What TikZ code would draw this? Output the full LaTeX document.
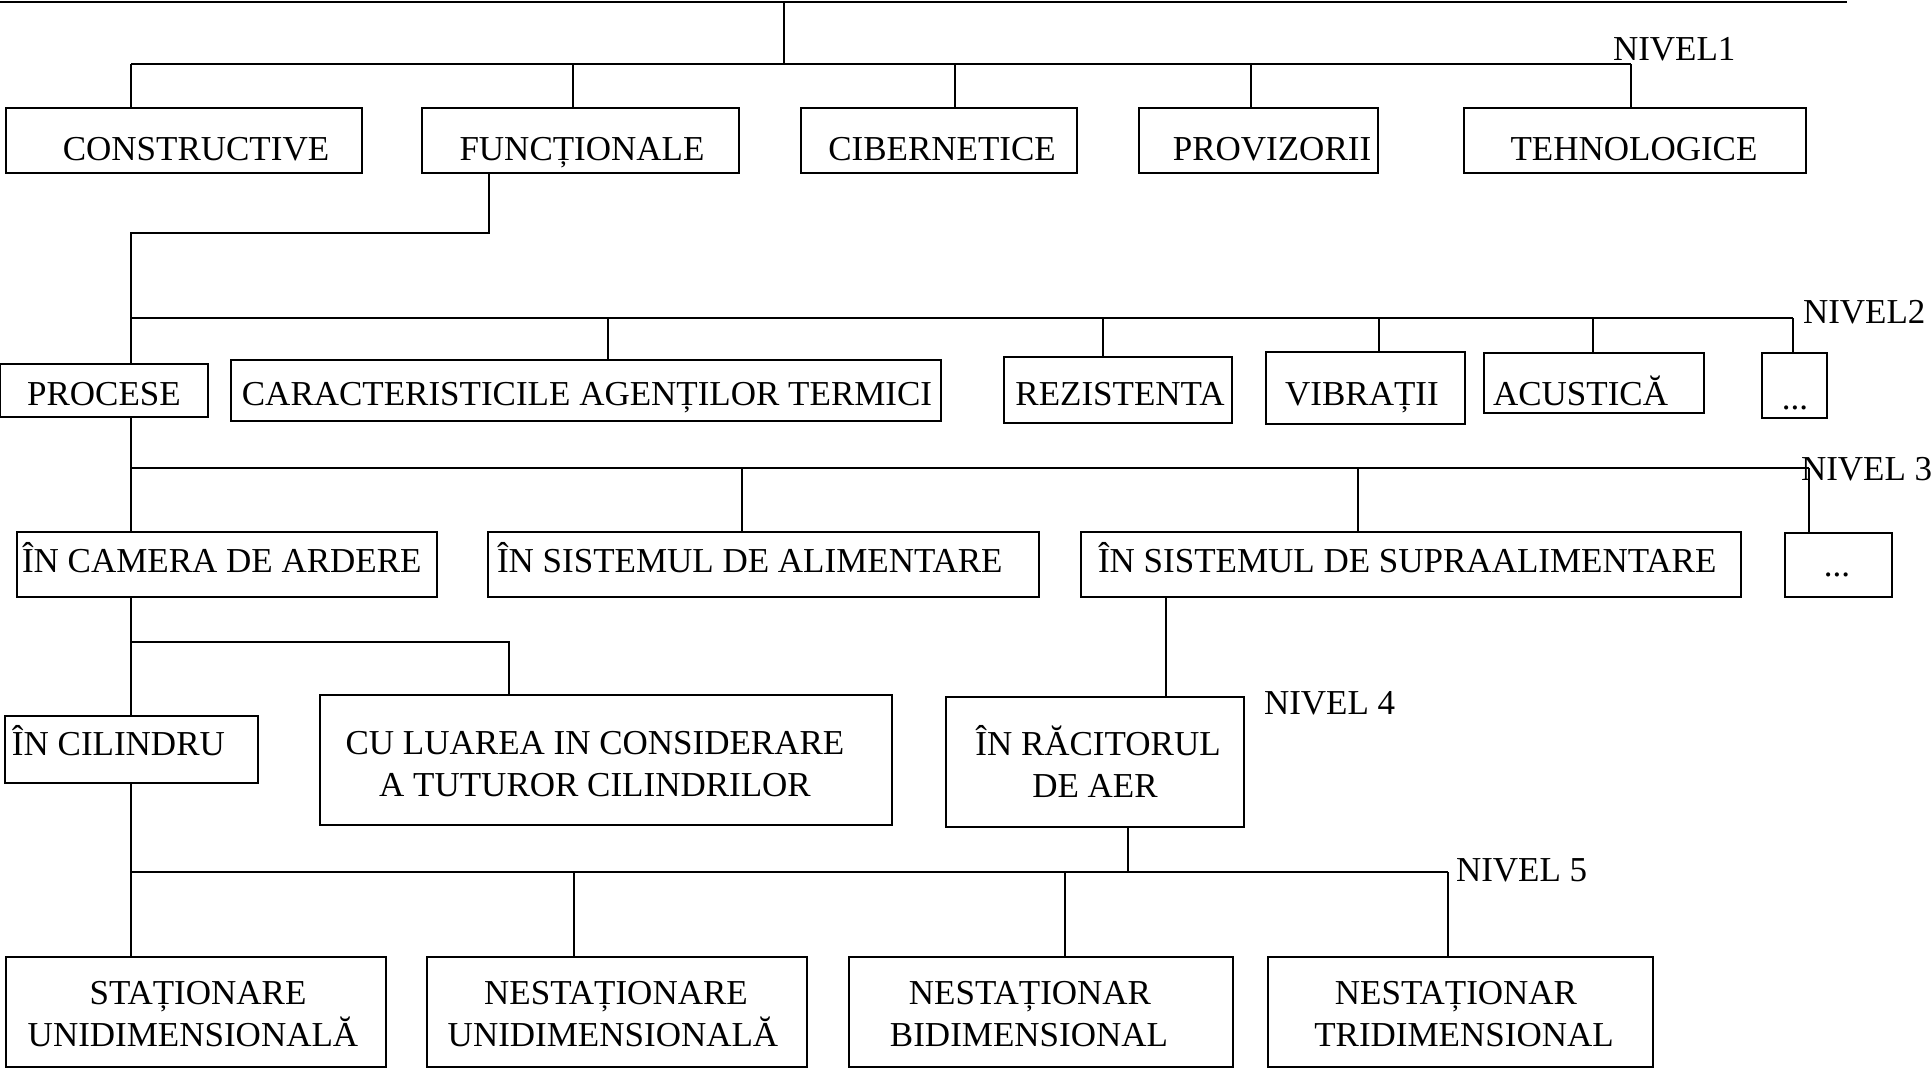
\documentclass[tikz,border=0pt]{standalone}
\usepackage{fontspec}
\setmainfont{Liberation Serif}
\usetikzlibrary{fit}
% box from its two corners
\newcommand\bx[5]{\node[box, fit={(#2,#3) (#4,#5)}] (#1) {};}
% vertical drop from a bus point down to the top of a box
\newcommand\drop[3]{\coordinate (#1) at (#2); \draw (#1) -- (#1 |- #3.north);}
\begin{document}
\begin{tikzpicture}[x=1pt,y=-1pt,
  line width=1.8pt,
  box/.style={draw, rectangle, inner sep=0pt, outer sep=0pt},
  lbl/.style={inner sep=0pt, outer sep=0pt, anchor=base, font=\fontsize{35}{42}\selectfont},
  lblw/.style={lbl, anchor=base west},
]
\useasboundingbox (0,0) rectangle (1932,1068);

% ---------- level 1 ----------
\bx{cons}{6}{108}{362}{173}
\bx{func}{422}{108}{739}{173}
\bx{cib}{801}{108}{1077}{173}
\bx{prov}{1139}{108}{1378}{173}
\bx{teh}{1464}{108}{1806}{173}
\node[lbl] (tcons) at (196,160) {CONSTRUCTIVE};
\node[lbl] (tfunc) at (582,160) {FUNCȚIONALE};
\node[lbl] (tcib)  at (942,160) {CIBERNETICE};
\node[lbl] (tprov) at (1272,160) {PROVIZORII};
\node[lbl] (tteh)  at (1634,160) {TEHNOLOGICE};
\node[lblw] (n1) at (1613,60) {NIVEL1};

\coordinate (t0L) at (0,2);
\coordinate (t0R) at (1847,2);
\coordinate (root) at (784,2);
\coordinate (j1) at (784,64);
\draw (t0L) -- (t0R);
\draw (root) -- (j1);
\coordinate (b1L) at (131,64);
\coordinate (b1R) at (1631,64);
\draw (b1L) -- (b1R);
\draw (b1L) -- (b1L |- cons.north);
\drop{d1f}{573,64}{func}
\drop{d1c}{955,64}{cib}
\drop{d1p}{1251,64}{prov}
\drop{d1t}{1631,64}{teh}

% ---------- level 2 ----------
\bx{proc}{0}{364}{208}{417}
\bx{car}{231}{360}{941}{421}
\bx{rez}{1004}{357}{1232}{423}
\bx{vib}{1266}{352}{1465}{424}
\bx{acu}{1484}{353}{1704}{413}
\bx{dd2}{1762}{353}{1827}{418}
\node[lbl] (tproc) at (104,405) {PROCESE};
\node[lbl] (tcar)  at (587,405) {CARACTERISTICILE AGENȚILOR TERMICI};
\node[lbl] (trez)  at (1120,405) {REZISTENTA};
\node[lbl] (tvib)  at (1362,405) {VIBRAȚII};
\node[lblw] (tacu) at (1493,405) {ACUSTICĂ};
\node[lbl] (tdd2)  at (1795,409) {...};
\node[lblw] (n2) at (1803,323) {NIVEL2};

\coordinate (f1) at (489,233);
\coordinate (f2) at (131,233);
\draw (f1 |- func.south) -- (f1) -- (f2) -- (f2 |- proc.north);
\coordinate (b2L) at (131,318);
\coordinate (b2R) at (1793,318);
\draw (b2L) -- (b2R);
\drop{d2c}{608,318}{car}
\drop{d2r}{1103,318}{rez}
\drop{d2v}{1379,318}{vib}
\drop{d2a}{1593,318}{acu}
\drop{d2d}{1793,318}{dd2}

% ---------- level 3 ----------
\bx{cam}{17}{532}{437}{597}
\bx{alim}{488}{532}{1039}{597}
\bx{supra}{1081}{532}{1741}{597}
\bx{dd3}{1785}{533}{1892}{597}
\node[lblw] (tcam)   at (22,572) {ÎN CAMERA DE ARDERE};
\node[lblw] (talim)  at (497,572) {ÎN SISTEMUL DE ALIMENTARE};
\node[lblw] (tsupra) at (1098,572) {ÎN SISTEMUL DE SUPRAALIMENTARE};
\node[lbl] (tdd3)    at (1837,576) {...};
\node[lblw] (n3) at (1801,480) {NIVEL 3};

\coordinate (b3L) at (131,468);
\coordinate (b3R) at (1809,468);
\draw (b3L |- proc.south) -- (b3L |- cam.north);
\draw (b3L) -- (b3R);
\drop{d3a}{742,468}{alim}
\drop{d3s}{1358,468}{supra}
\draw (b3R) -- (b3R |- dd3.north);

% ---------- level 4 ----------
\bx{cil}{5}{716}{258}{783}
\bx{cu}{320}{695}{892}{825}
\bx{rac}{946}{697}{1244}{827}
\node[lblw] (tcil) at (12,755) {ÎN CILINDRU};
\node[lbl] (tcu1) at (595,754) {CU LUAREA IN CONSIDERARE};
\node[lbl] (tcu2) at (595,796) {A TUTUROR CILINDRILOR};
\node[lbl] (trac1) at (1098,755) {ÎN RĂCITORUL};
\node[lbl] (trac2) at (1095,797) {DE AER};
\node[lblw] (n4) at (1264,714) {NIVEL 4};

\coordinate (b4L) at (131,642);
\coordinate (b4R) at (509,642);
\draw (b4L |- cam.south) -- (b4L |- cil.north);
\draw (b4L) -- (b4R) -- (b4R |- cu.north);
\coordinate (s4) at (1166,650);
\draw (s4 |- supra.south) -- (s4 |- rac.north);

% ---------- level 5 ----------
\bx{st}{6}{957}{386}{1067}
\bx{nu}{427}{957}{807}{1067}
\bx{nb}{849}{957}{1233}{1067}
\bx{nt}{1268}{957}{1653}{1067}
\node[lbl] (tst1) at (198,1004) {STAȚIONARE};
\node[lbl] (tst2) at (193,1046) {UNIDIMENSIONALĂ};
\node[lbl] (tnu1) at (616,1004) {NESTAȚIONARE};
\node[lbl] (tnu2) at (613,1046) {UNIDIMENSIONALĂ};
\node[lbl] (tnb1) at (1030,1004) {NESTAȚIONAR};
\node[lbl] (tnb2) at (1029,1046) {BIDIMENSIONAL};
\node[lbl] (tnt1) at (1456,1004) {NESTAȚIONAR};
\node[lbl] (tnt2) at (1464,1046) {TRIDIMENSIONAL};
\node[lblw] (n5) at (1456,881) {NIVEL 5};

\coordinate (b5L) at (131,872);
\coordinate (b5R) at (1448,872);
\draw (b5L |- cil.south) -- (b5L |- st.north);
\draw (b5L) -- (b5R);
\coordinate (r5) at (1128,872);
\draw (r5 |- rac.south) -- (r5);
\drop{d5u}{574,872}{nu}
\drop{d5b}{1065,872}{nb}
\draw (b5R) -- (b5R |- nt.north);
\end{tikzpicture}
\end{document}
